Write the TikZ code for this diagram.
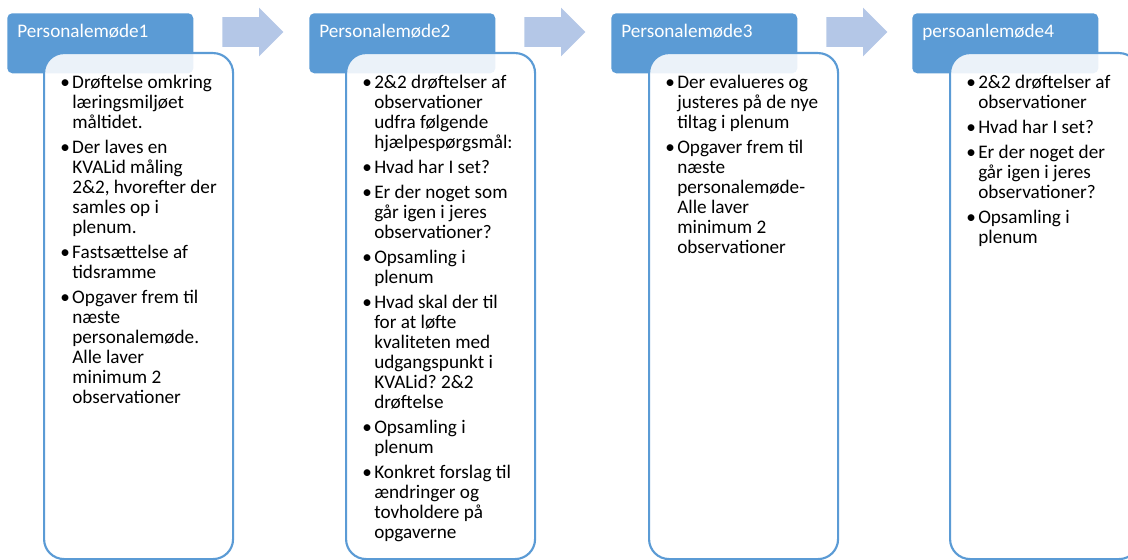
\documentclass[tikz,border=0pt]{standalone}
\usepackage{fontspec}
\setmainfont{Carlito}
\usepackage{tikz}
\usetikzlibrary{shapes, shapes.arrows, positioning}

\definecolor{accentblue}{RGB}{91,155,213}
\definecolor{arrowblue}{RGB}{180,199,231}
\newcommand{\pkt}{\textbullet &}
\frenchspacing

\begin{document}
\begin{tikzpicture}
[x=0.75pt, y=-0.75pt,
heading/.style={rectangle, rounded corners=3.75pt, fill=accentblue, text=white,
                anchor=north west, inner xsep=7.5pt, inner ysep=0pt,
                text width=124.5pt, align=left, text height=18pt, text depth=27pt,
                font=\fontsize{14.4}{15}\selectfont},
panel/.style={rectangle, rounded corners=15pt, draw=accentblue, line width=1.6pt,
              fill=white, fill opacity=0.88, anchor=north west,
              minimum width=141.75pt, minimum height=379.5pt},
points/.style={anchor=north west, inner sep=0pt, align=left,
               font=\fontsize{14.4}{15}\selectfont},
blockarrow/.style={single arrow, fill=arrowblue, inner xsep=0pt, inner ysep=10.9pt,
                   minimum height=45.75pt, single arrow head extend=7.1pt,
                   single arrow head indent=0pt, anchor=west}
]
    \useasboundingbox (0,0) rectangle (1128,560);

    % overskrifter og bokse
    \node[heading] (head1) at (7,13) {Personalemøde1};
    \node[panel] (box1) at (43,52) {};
    \node[heading] (head2) at (309,13) {Personalemøde2};
    \node[panel] (box2) at (345,52) {};
    \node[heading] (head3) at (611,13) {Personalemøde3};
    \node[panel] (box3) at (648,52) {};
    \node[heading] (head4) at (912,13) {persoanlemøde4};
    \node[panel] (box4) at (949,52) {};

    % pile mellem trinene
    \node[blockarrow] (arrow1) at (222,32) {};
    \node[blockarrow] (arrow2) at (524,32) {};
    \node[blockarrow] (arrow3) at (826,32) {};

    \node[points] (text1) at ([shift={(17,22)}]box1.north west) {%
    \begin{tabular}{@{}p{9pt}@{}l@{}}
    \pkt Drøftelse omkring\\ & læringsmiljøet\\ & måltidet.\\[3.75pt]
    \pkt Der laves en\\ & KVALid måling\\ & 2\&2, hvorefter der\\ & samles op i\\ & plenum.\\[3.75pt]
    \pkt Fastsættelse af\\ & tidsramme\\[3.75pt]
    \pkt Opgaver frem til\\ & næste\\ & personalemøde.\\ & Alle laver\\ & minimum 2\\ & observationer
    \end{tabular}};
    \node[points] (text2) at ([shift={(17,22)}]box2.north west) {%
    \begin{tabular}{@{}p{9pt}@{}l@{}}
    \pkt 2\&2 drøftelser af\\ & observationer\\ & udfra følgende\\ & hjælpespørgsmål:\\[3.75pt]
    \pkt Hvad har I set?\\[3.75pt]
    \pkt Er der noget som\\ & går igen i jeres\\ & observationer?\\[3.75pt]
    \pkt Opsamling i\\ & plenum\\[3.75pt]
    \pkt Hvad skal der til\\ & for at løfte\\ & kvaliteten med\\ & udgangspunkt i\\ & KVALid? 2\&2\\ & drøftelse\\[3.75pt]
    \pkt Opsamling i\\ & plenum\\[3.75pt]
    \pkt Konkret forslag til\\ & ændringer og\\ & tovholdere på\\ & opgaverne
    \end{tabular}};
    \node[points] (text3) at ([shift={(17,22)}]box3.north west) {%
    \begin{tabular}{@{}p{9pt}@{}l@{}}
    \pkt Der evalueres og\\ & justeres på de nye\\ & tiltag i plenum\\[3.75pt]
    \pkt Opgaver frem til\\ & næste\\ & personalemøde-\\ & Alle laver\\ & minimum 2\\ & observationer
    \end{tabular}};
    \node[points] (text4) at ([shift={(17,22)}]box4.north west) {%
    \begin{tabular}{@{}p{9pt}@{}l@{}}
    \pkt 2\&2 drøftelser af\\ & observationer\\[3.75pt]
    \pkt Hvad har I set?\\[3.75pt]
    \pkt Er der noget der\\ & går igen i jeres\\ & observationer?\\[3.75pt]
    \pkt Opsamling i\\ & plenum
    \end{tabular}};
\end{tikzpicture}
\end{document}
